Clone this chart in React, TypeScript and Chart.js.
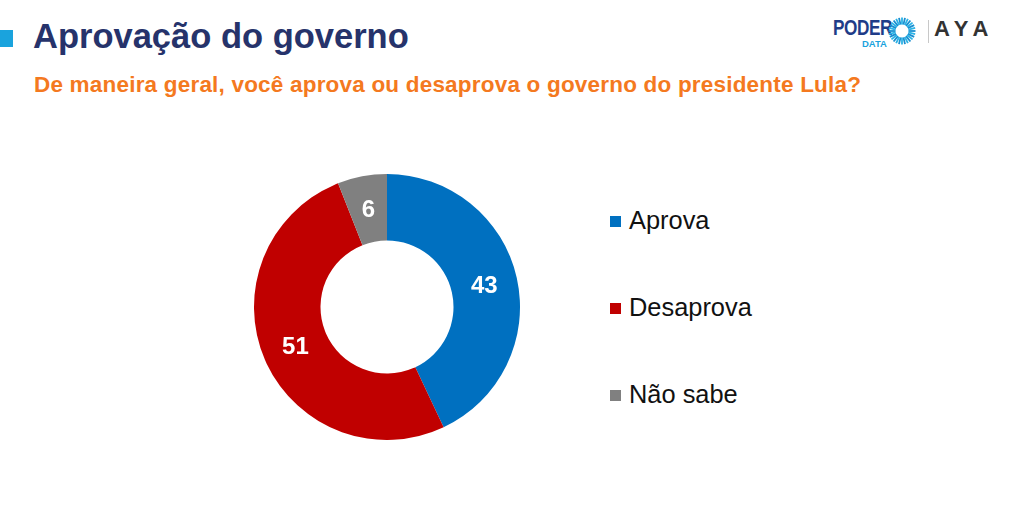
import React, { useEffect, useRef } from "react";
import { Chart, registerables } from "chart.js";

Chart.register(...registerables);

const title = "Aprovação do governo";
const subtitle = "De maneira geral, você aprova ou desaprova o governo do presidente Lula?";
const categories = ["Aprova", "Desaprova", "Não sabe"];
const values = [43, 51, 6];
const colors = ["#0070c0", "#c00000", "#808080"];

const FONT = "'Liberation Sans', Arial, Helvetica, sans-serif";

const valueLabels = {
  id: "valueLabels",
  afterDatasetsDraw(chart: any) {
    const ctx = chart.ctx;
    const meta = chart.getDatasetMeta(0);
    ctx.save();
    ctx.fillStyle = "#ffffff";
    ctx.font = `bold 24px ${FONT}`;
    ctx.textAlign = "center";
    ctx.textBaseline = "middle";
    meta.data.forEach((el: any, i: number) => {
      const p = el.tooltipPosition();
      ctx.fillText(String(chart.data.datasets[0].data[i]), p.x, p.y + 1);
    });
    ctx.restore();
  },
};

function Sunburst() {
  const rays = [];
  for (let i = 0; i < 28; i++) {
    const a = (i / 28) * Math.PI * 2;
    rays.push(
      <line
        key={i}
        x1={14 + Math.cos(a) * 6.5}
        y1={14 + Math.sin(a) * 6.5}
        x2={14 + Math.cos(a) * 13.5}
        y2={14 + Math.sin(a) * 13.5}
        stroke={i % 2 ? "#2bb3e6" : "#1a8fd0"}
        strokeWidth={1.8}
      />
    );
  }
  return (
    <svg width={28} height={28} style={{ position: "absolute", left: 888, top: 17 }}>
      {rays}
    </svg>
  );
}

export default function App() {
  const canvasRef = useRef<HTMLCanvasElement | null>(null);

  useEffect(() => {
    document.body.style.margin = "0";
    const chart = new Chart(canvasRef.current as HTMLCanvasElement, {
      type: "doughnut",
      data: {
        labels: categories,
        datasets: [
          {
            data: values,
            backgroundColor: colors,
            borderWidth: 0,
            hoverOffset: 0,
            offset: 0,
          },
        ],
      },
      options: {
        animation: false,
        responsive: true,
        maintainAspectRatio: false,
        cutout: "50%",
        layout: { padding: 0 },
        plugins: {
          legend: { display: false },
          tooltip: { enabled: false },
        },
      },
      plugins: [valueLabels],
    });
    return () => chart.destroy();
  }, []);

  const abs = (s: React.CSSProperties): React.CSSProperties => ({ position: "absolute", ...s });

  return (
    <div style={{ position: "relative", width: 1024, height: 512, background: "#fff", overflow: "hidden", fontFamily: FONT }}>
      <div style={abs({ left: 0, top: 30, width: 13, height: 17, background: "#1aa3dd" })} />
      <div style={abs({ left: 33, top: 18.8, fontSize: 34.5, lineHeight: "34.5px", fontWeight: "bold", color: "#26336b", whiteSpace: "nowrap" })}>
        {title}
      </div>
      <div style={abs({ left: 34, top: 74, fontSize: 22.5, lineHeight: "22.5px", fontWeight: "bold", color: "#f47920", letterSpacing: 0.2, whiteSpace: "nowrap" })}>
        {subtitle}
      </div>

      {/* logo */}
      <div style={abs({ left: 833, top: 17, fontSize: 22, lineHeight: "22px", fontWeight: "bold", color: "#1f3c88", whiteSpace: "nowrap", transform: "scaleX(0.78)", transformOrigin: "left top", letterSpacing: -0.5 })}>
        PODER
      </div>
      <div style={abs({ left: 862, top: 39, fontSize: 9.5, lineHeight: "9.5px", fontWeight: "bold", color: "#1aa3dd", whiteSpace: "nowrap" })}>
        DATA
      </div>
      <Sunburst />
      <div style={abs({ left: 928, top: 20, width: 1, height: 23, background: "#c8c8c8" })} />
      <div style={abs({ left: 934, top: 18, fontSize: 22, lineHeight: "22px", fontWeight: "bold", color: "#333", letterSpacing: 6, whiteSpace: "nowrap" })}>
        AYA
      </div>

      <div style={abs({ left: 254, top: 174, width: 266, height: 266 })}>
        <canvas ref={canvasRef} />
      </div>

      {categories.map((c, i) => (
        <React.Fragment key={c}>
          <div style={abs({ left: 610, top: 216 + i * 87, width: 11, height: 11, background: colors[i] })} />
          <div style={abs({ left: 629, top: 207.5 + i * 87, fontSize: 25.4, lineHeight: "25.4px", color: "#111", whiteSpace: "nowrap" })}>
            {c}
          </div>
        </React.Fragment>
      ))}
    </div>
  );
}
